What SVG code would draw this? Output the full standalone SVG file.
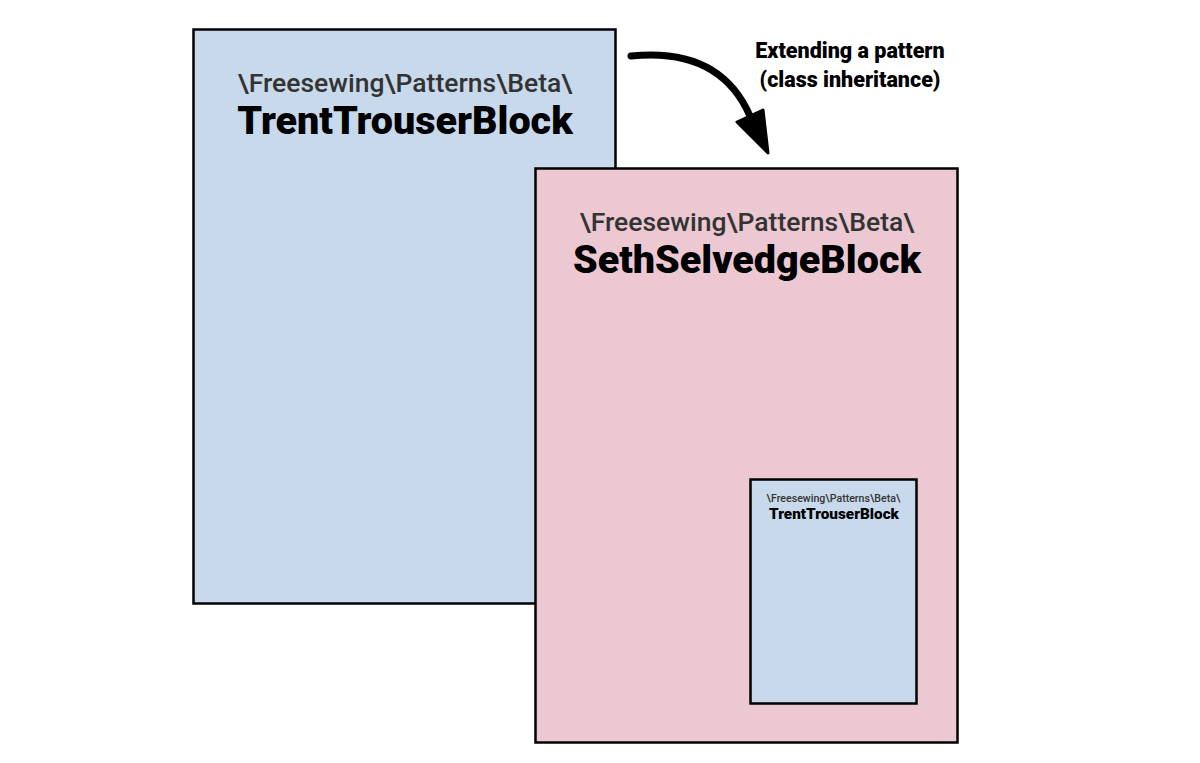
<svg xmlns="http://www.w3.org/2000/svg" width="1200" height="763" viewBox="0 0 1200 763">
<style>
.box{stroke:#000;stroke-width:2.5}
.blue{fill:#c8d9ec}
.pink{fill:#ecc8d2}
.ns{font-family:Roboto,"Liberation Sans",sans-serif;font-weight:500;fill:#333;text-anchor:middle}
.ti{font-family:Roboto,"Liberation Sans",sans-serif;font-weight:900;fill:#000;text-anchor:middle}
</style>
<rect width="1200" height="763" fill="#fff"/>
<g id="trent">
<rect class="box blue" x="193.5" y="29.5" width="422" height="574"/>
<text class="ns" x="405" y="92" font-size="26.5">\Freesewing\Patterns\Beta\</text>
<text class="ti" x="405" y="134" font-size="39.5">TrentTrouserBlock</text>
</g>
<g id="seth">
<rect class="box pink" x="535.5" y="168.5" width="422" height="574"/>
<text class="ns" x="747" y="231" font-size="26.5">\Freesewing\Patterns\Beta\</text>
<text class="ti" x="747" y="273" font-size="39.5">SethSelvedgeBlock</text>
</g>
<g id="trent-inner">
<rect class="box blue" x="750.5" y="479.5" width="166" height="224"/>
<text class="ns" x="833.5" y="502" font-size="10.6">\Freesewing\Patterns\Beta\</text>
<text class="ti" x="834" y="519" font-size="15.3">TrentTrouserBlock</text>
</g>
<g id="connectors">
<path d="M631 56 C690 50 730 70 750 116" fill="none" stroke="#000" stroke-width="7" stroke-linecap="round"/>
<polygon points="737,122 763,110 768,153" fill="#000" stroke="#000" stroke-width="3" stroke-linejoin="round"/>
</g>
<g id="label">
<text class="ti" x="850" y="58" font-size="21.5">Extending a pattern</text>
<text class="ti" x="850" y="87" font-size="21.5">(class inheritance)</text>
</g>
</svg>
